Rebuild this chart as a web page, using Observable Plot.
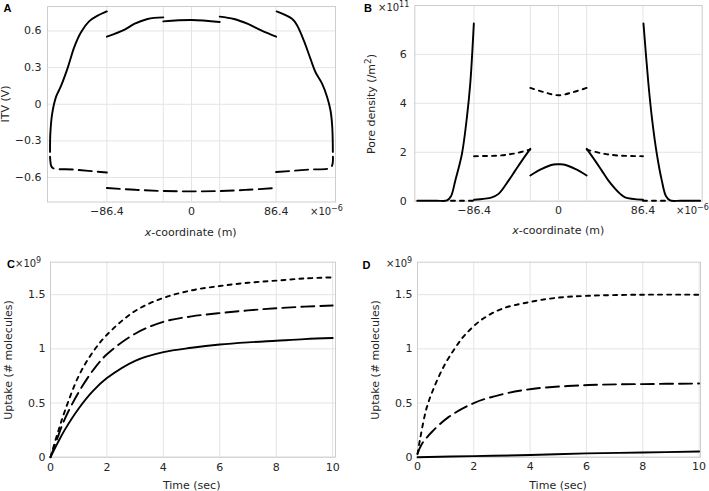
<!DOCTYPE html>
<html><head><meta charset="utf-8">
<script src="https://cdn.jsdelivr.net/npm/d3@7"></script>
<script src="https://cdn.jsdelivr.net/npm/@observablehq/plot@0.6"></script>
<style>
body{margin:0;background:#fff;}
#wrap{position:relative;width:709px;height:491px;overflow:hidden;font-family:"DejaVu Sans",sans-serif;color:#262626;background:#fff;}
#wrap svg{position:absolute;overflow:visible;}
.t{position:absolute;white-space:nowrap;font-size:11px;line-height:1;}
.pl{font-weight:bold;font-family:"Liberation Sans",Arial,sans-serif;font-size:11px;color:#000;}
.ex{font-size:10px;}
sup{font-size:0.8em;vertical-align:0.45em;line-height:0;}
</style></head><body><div id="wrap"></div><script>
// ---------- Panel A : ITV (V) vs x-coordinate (x1e-6 m) ----------
const aSolidL  = [[-144.4,-0.39],[-144.1,-0.24],[-142.3,-0.08],[-138.3,0.06],[-133.2,0.15],[-126.3,0.30],[-119.6,0.47],[-112.8,0.59],[-104.3,0.68],[-95.8,0.725],[-86.4,0.76]];
const aSolidML = [[-86.4,0.553],[-68.7,0.608],[-58.5,0.657],[-44.8,0.698],[-28.8,0.711]];
const aSolidM  = [[-28.8,0.678],[0,0.690],[28.8,0.673]];
const aSolidMR = [[28.8,0.717],[43.3,0.698],[57.6,0.657],[71.7,0.602],[86.4,0.553]];
const aSolidR  = [[86.9,0.760],[102.9,0.698],[108.0,0.643],[114.7,0.521],[121.5,0.371],[126.6,0.262],[133.4,0.167],[138.5,0.058],[141.9,-0.051],[143.7,-0.187],[144.3,-0.39]];
const aDashL   = [[-144.4,-0.43],[-144.0,-0.47],[-143.4,-0.50],[-141.6,-0.522],[-119.6,-0.535],[-86.4,-0.559]];
const aDashM   = [[-86.4,-0.685],[-57.6,-0.700],[-28.8,-0.710],[0,-0.713],[28.8,-0.710],[57.6,-0.700],[86.4,-0.685]];
const aDashR   = [[86.4,-0.555],[119.6,-0.535],[141.6,-0.522],[143.6,-0.50],[144.3,-0.47],[144.4,-0.43]];
const aXTicks = [-86.4, 0, 86.4];
const aXGrid  = [-86.4, -28.8, 0, 28.8, 86.4];
const aYTicks = [-0.6, -0.3, 0, 0.3, 0.6];

// ---------- Panel B : Pore density (x1e11 /m^2) ----------
const bSolidL  = [[-144.5,0.02],[-125,0.02],[-114,0.03],[-110,0.2],[-105.6,0.84],[-98.8,1.93],[-93.7,3.43],[-90.3,4.79],[-86.6,7.27]];
const bDashL0  = [[-110,0.02],[-86.4,0.02]];
const bSolidML = [[-86.4,0.06],[-68.1,0.16],[-61.3,0.30],[-51.1,0.84],[-44.3,1.25],[-37.4,1.66],[-28.9,2.14]];
const bDashML  = [[-86.4,1.84],[-60,1.87],[-45,1.95],[-28.9,2.11]];
const bSolidM  = [[-28.8,1.05],[-17,1.32],[-5,1.50],[0,1.51],[5,1.50],[17,1.32],[28.8,1.05]];
const bDotM    = [[-28.8,4.63],[-15,4.46],[0,4.33],[15,4.46],[28.8,4.63]];
const bSolidMR = [[28.9,2.14],[37.4,1.66],[44.3,1.25],[51.1,0.84],[63.1,0.30],[68.1,0.16],[86.4,0.06]];
const bDashMR  = [[28.9,2.11],[45,1.95],[60,1.87],[86.4,1.84]];
const bDashR0  = [[86.4,0.02],[110,0.02]];
const bSolidR  = [[86.9,7.27],[92.0,4.79],[95.5,3.43],[100.6,1.93],[105.7,0.84],[110.0,0.2],[114.2,0.03],[125,0.02],[144.9,0.02]];
const bXTicks = [-86.4, 0, 86.4];
const bXGrid  = [-86.4, -28.8, 0, 28.8, 86.4];
const bYTicks = [0, 2, 4, 6];

// ---------- Panel C : Uptake (x1e9 molecules) vs Time (sec) ----------
const cTime   = [0, 0.25, 0.5, 1, 1.5, 2, 3, 4, 5, 6, 7, 8, 9, 10];
const cDotted = [0, 0.22, 0.42, 0.75, 0.97, 1.13, 1.35, 1.47, 1.54, 1.58, 1.61, 1.63, 1.65, 1.66];
const cDashed = [0, 0.18, 0.35, 0.60, 0.80, 0.95, 1.14, 1.25, 1.30, 1.33, 1.355, 1.375, 1.39, 1.40];
const cSolid  = [0, 0.13, 0.25, 0.45, 0.61, 0.73, 0.89, 0.97, 1.01, 1.04, 1.06, 1.075, 1.09, 1.10];

// ---------- Panel D ----------
const dTime   = [0, 0.1, 0.33, 0.63, 0.98, 1.34, 1.69, 2.28, 3, 3.94, 4.89, 6.07, 8, 10];
const dDotted = [0.03, 0.18, 0.46, 0.67, 0.86, 1.01, 1.13, 1.27, 1.37, 1.43, 1.47, 1.49, 1.50, 1.50];
const dTime2  = [0, 0.15, 0.5, 1.1, 2, 3, 4.06, 6.07, 8, 10];
const dDashed = [0.03, 0.12, 0.23, 0.37, 0.50, 0.58, 0.63, 0.666, 0.675, 0.68];
const dTime3  = [0, 2, 4, 6, 8, 10];
const dSolid  = [0, 0.01, 0.02, 0.035, 0.043, 0.052];
const tTicks  = [0, 2, 4, 6, 8, 10];
const uTicks  = [0, 0.5, 1, 1.5];

const DASH = "13,6", DOT = "4,5";
const fmt = d => (d < 0 ? "\u2212" + Math.abs(d) : String(d));
const segRows = segs => segs.flatMap((pts, i) => pts.map(([x, y]) => ({x, y, seg: i})));
const colRows = (xs, ys) => xs.map((x, i) => ({x, y: ys[i], seg: 0}));

const wrap = document.getElementById("wrap");

function panel(o) {
  const marks = [
    Plot.gridX(o.xGrid, {stroke: "#e4e4e4", strokeOpacity: 1}),
    Plot.gridY(o.yGrid, {stroke: "#e4e4e4", strokeOpacity: 1}),
    Plot.frame({stroke: "#cdcdcd"}),
    Plot.axisX(o.xTicks, {tickSize: 0, tickPadding: o.xPad, tickFormat: fmt, label: null, fill: "#262626", fontSize: 11}),
    Plot.axisY(o.yTicks, {tickSize: 0, tickPadding: o.yPad, tickFormat: fmt, label: null, fill: "#262626", fontSize: 11}),
    ...o.series.map(s => Plot.line(s.rows, {x: "x", y: "y", z: "seg", curve: "catmull-rom", stroke: "black", strokeWidth: 1.9, strokeDasharray: s.dash}))
  ];
  const svg = Plot.plot({
    width: o.width, height: o.height,
    marginLeft: o.m[0], marginTop: o.m[1], marginRight: o.m[2], marginBottom: o.m[3],
    x: {domain: o.xDomain}, y: {domain: o.yDomain},
    style: {fontFamily: "DejaVu Sans", fontSize: "11px", background: "transparent", overflow: "visible"},
    marks
  });
  svg.style.left = o.left + "px";
  svg.style.top = o.top + "px";
  wrap.appendChild(svg);
}

function txt(html, x, y, opt = {}) {
  const d = document.createElement("div");
  d.className = opt.cls || "t";
  d.innerHTML = html;
  d.style.left = x + "px";
  d.style.top = y + "px";
  const tx = opt.anchor === "start" ? "0" : "-50%";
  d.style.transform = `translate(${tx},-50%)` + (opt.rotate ? " rotate(-90deg)" : "");
  wrap.appendChild(d);
}

// Panel A
panel({left: 0, top: 0, width: 354, height: 240, m: [47, 6, 19, 38.5],
  xDomain: [-147, 147], yDomain: [-0.8, 0.8], xTicks: aXTicks, xGrid: aXGrid, yTicks: aYTicks, yGrid: aYTicks, xPad: 5, yPad: 6,
  series: [
    {rows: segRows([aSolidL, aSolidML, aSolidM, aSolidMR, aSolidR]), dash: null},
    {rows: segRows([aDashL, aDashM, aDashR]), dash: DASH}
  ]});
// Panel B
panel({left: 355, top: 0, width: 354, height: 240, m: [59.3, 5, 7.3, 39.3],
  xDomain: [-147, 147], yDomain: [0, 8], xTicks: bXTicks, xGrid: bXGrid, yTicks: bYTicks, yGrid: bYTicks, xPad: 5, yPad: 8,
  series: [
    {rows: segRows([bSolidL, bSolidML, bSolidM, bSolidMR, bSolidR]), dash: null},
    {rows: segRows([bDashL0, bDashML, bDotM, bDashMR, bDashR0]), dash: DOT}
  ]});
// Panel C
panel({left: 0, top: 240, width: 354, height: 251, m: [50, 21.7, 19, 34.3],
  xDomain: [0, 10.1], yDomain: [0, 1.8], xTicks: tTicks, xGrid: tTicks, yTicks: uTicks, yGrid: uTicks, xPad: 6, yPad: 5,
  series: [
    {rows: colRows(cTime, cSolid), dash: null},
    {rows: colRows(cTime, cDashed), dash: DASH},
    {rows: colRows(cTime, cDotted), dash: DOT}
  ]});
// Panel D
panel({left: 355, top: 240, width: 354, height: 251, m: [62, 21.7, 9, 34.3],
  xDomain: [0, 10.05], yDomain: [0, 1.8], xTicks: tTicks, xGrid: tTicks, yTicks: uTicks, yGrid: uTicks, xPad: 5, yPad: 5,
  series: [
    {rows: colRows(dTime3, dSolid), dash: null},
    {rows: colRows(dTime2, dDashed), dash: DASH},
    {rows: colRows(dTime, dDotted), dash: DOT}
  ]});

// Text
txt("A", 7.5, 8, {cls: "t pl"});
txt("ITV (V)", 5, 104, {rotate: true});
txt("<i>x</i>-coordinate (m)", 190.7, 231.5);
txt("×10<sup>−6</sup>", 310, 212, {anchor: "start", cls: "t ex"});

txt("B", 368, 8, {cls: "t pl"});
txt("×10<sup>11</sup>", 378, 8, {anchor: "start", cls: "t ex"});
txt("Pore density (/m<sup>2</sup>)", 371, 104, {rotate: true});
txt("<i>x</i>-coordinate (m)", 558.3, 230);
txt("×10<sup>−6</sup>", 676, 211, {anchor: "start", cls: "t ex"});

txt("C", 11, 263.5, {cls: "t pl"});
txt("×10<sup>9</sup>", 15, 264, {anchor: "start", cls: "t ex"});
txt("Uptake (# molecules)", 8, 359.5, {rotate: true});
txt("Time (sec)", 191.7, 485);

txt("D", 366.5, 265, {cls: "t pl"});
txt("×10<sup>9</sup>", 386, 264, {anchor: "start", cls: "t ex"});
txt("Uptake (# molecules)", 375, 359.5, {rotate: true});
txt("Time (sec)", 558, 485);
</script></body></html>
